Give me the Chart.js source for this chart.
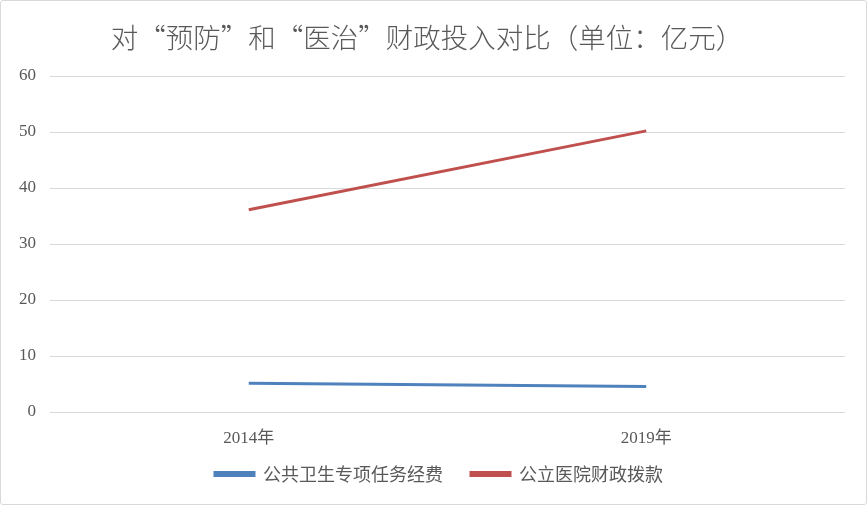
<!DOCTYPE html>
<html>
<head>
<meta charset="utf-8">
<script src="https://cdn.jsdelivr.net/npm/chart.js@4.4.0/dist/chart.umd.min.js"></script>
<style>
	html, body { margin: 0; padding: 0; background: #fff; }
	#wrap {
		position: relative;
		width: 865px;
		height: 503px;
		border: 1px solid #d9d9d9;
		border-radius: 3px;
	}
</style>
</head>
<body>
<div id="wrap"><canvas id="myChart"></canvas></div>
<script>
const years = ["2014年", "2019年"];
const publicHealth = [5.15, 4.55];
const hospitalFunds = [36.1, 50.2];
const seriesNames = ["公共卫生专项任务经费", "公立医院财政拨款"];

const textColor = "#595959";
const serif = "'Liberation Serif', 'Noto Sans CJK SC', serif";
const cjk = "'Noto Sans CJK SC', sans-serif";

// nudge title and legend: chart area has extra padding on the right,
// and the legend sits a bit higher than its reserved box
const shiftBoxes = {
	id: "shiftBoxes",
	afterLayout(chart) {
		chart.titleBlock.left += 4;
		chart.titleBlock.right += 4;
		chart.legend.left += 16;
		chart.legend.right += 16;
		chart.legend.top -= 11;
		chart.legend.bottom -= 11;
	}
};

new Chart("myChart", {
	type: "line",
	data: {
		labels: years,
		datasets: [{
			label: seriesNames[0],
			data: publicHealth,
			borderColor: "#4f81bd",
			backgroundColor: "#4f81bd",
			borderWidth: 3,
			pointRadius: 0,
			fill: false
		}, {
			label: seriesNames[1],
			data: hospitalFunds,
			borderColor: "#c0504d",
			backgroundColor: "#c0504d",
			borderWidth: 3,
			pointRadius: 0,
			fill: false
		}]
	},
	plugins: [shiftBoxes],
	options: {
		responsive: true,
		maintainAspectRatio: false,
		animation: false,
		layout: { padding: { left: 0, right: 21, top: 0, bottom: 0 } },
		plugins: {
			title: {
				display: true,
				text: "对“预防”和“医治”财政投入对比（单位：亿元）",
				color: textColor,
				font: { family: cjk, size: 27.5, weight: 300 },
				padding: { top: 20, bottom: 22 }
			},
			legend: {
				position: "bottom",
				labels: {
					color: textColor,
					font: { family: cjk, size: 18 },
					boxWidth: 39,
					boxHeight: 3,
					padding: 28
				}
			},
			tooltip: { enabled: false }
		},
		scales: {
			x: {
				offset: true,
				afterFit: function (scale) { scale.height = 36; },
				grid: { display: false },
				border: { display: false },
				ticks: {
					color: textColor,
					font: { family: serif, size: 17 },
					padding: 8
				}
			},
			y: {
				min: 0,
				max: 60,
				afterFit: function (scale) { scale.width = 49; },
				grid: { color: "#d9d9d9", drawTicks: false },
				border: { display: false },
				ticks: {
					stepSize: 10,
					color: textColor,
					font: { family: serif, size: 17 },
					padding: 14
				}
			}
		}
	}
});
</script>
</body>
</html>
